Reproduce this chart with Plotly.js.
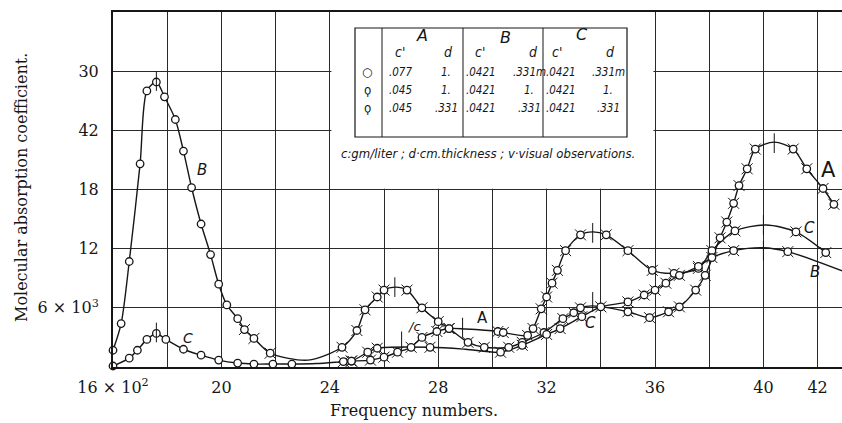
<!DOCTYPE html>
<html><head><meta charset="utf-8">
<script src="https://cdn.plot.ly/plotly-3.0.1.min.js"></script>
<style>html,body{margin:0;padding:0;background:#fff}#chart{width:842px;height:423px}</style>
</head><body><div id="chart"></div>
<script>
// ---- data (x: frequency numbers /100, y: molecular absorption coeff /1000) ----
// Curve 1: big left band (B, plain circles) running on to the right-hand band labelled A
const curve1X = [16.0,16.3,16.6,17.0,17.25,17.6,17.9,18.3,18.6,18.9,19.25,19.6,19.9,20.2,20.6,
  20.85,21.2,21.8,24.45,25.0,25.3,25.75,26.0,26.85,27.4,28.0,28.4,29.1,29.7,30.6,31.1,31.9,32.6,33.0,33.25,
  35.0,35.8,36.5,36.9,37.5,37.85,38.4,38.65,38.9,39.1,39.4,39.7,41.1,41.6,42.2,42.6];
const curve1Y = [1.7,4.4,10.7,20.6,28.0,28.9,27.4,25.1,21.9,18.2,14.5,11.4,8.4,6.3,4.9,
  3.8,2.9,1.4,2.0,3.7,5.8,7.1,7.8,7.8,6.0,4.6,3.9,2.5,2.0,2.0,2.5,3.5,4.9,5.5,6.0,
  5.6,5.0,5.6,6.1,7.8,9.3,13.1,14.7,16.6,18.4,20.1,22.1,22.1,20.1,18.1,16.5];
const curve1Plain = 15;               // first points are plain circles, the rest visual-observation marks
const curve1LineX = [23.2,26.4,33.7,40.4];   // points of the drawn line without a mark
const curve1LineY = [0.7,8.1,6.2,22.8];

// Curve 2: small left band (C, plain circles) running on to the right-hand band labelled C
const curve2X = [16.0,16.6,16.9,17.25,17.6,17.95,18.6,19.25,19.9,20.6,21.2,21.9,22.6,
  24.5,24.8,25.5,26.0,26.5,27.0,27.4,27.95,28.4,30.2,30.4,31.3,31.5,31.8,32.0,32.2,32.4,32.7,33.25,34.2,
  35.0,35.9,36.7,37.6,38.1,38.95,41.2,42.3];
const curve2Y = [0.1,0.9,1.7,2.8,3.4,2.8,1.8,1.2,0.7,0.4,0.3,0.3,0.3,
  0.55,0.6,0.7,1.0,1.5,2.0,3.0,3.6,3.9,3.6,3.5,3.2,3.9,5.9,7.1,8.5,9.8,11.8,13.4,13.4,
  11.8,9.8,9.5,10.0,11.8,13.8,13.7,11.6];
const curve2Plain = 13;
const curve2LineX = [23.5,29.0,33.7,40.1];
const curve2LineY = [0.35,3.85,13.7,14.4];

// Curve 3: low curve running on to the right-hand band labelled B
const curve3X = [24.8,25.4,25.75,27.7,30.3,31.1,32.0,32.5,33.3,34.0,35.0,35.6,36.0,36.4,36.9,37.6,38.1,38.9,40.9,42.95];
const curve3Y = [0.6,1.5,1.9,2.0,1.5,2.2,3.3,3.9,5.1,6.1,6.6,7.3,7.8,8.5,9.3,10.2,11.1,11.8,11.7,9.7];
const curve3Plain = 0;
const curve3LineX = [24.3,29.0,40.0];
const curve3LineY = [0.5,1.8,12.1];

// short vertical marks at band maxima
const peakMarkX = [17.6,17.6,26.4,28.9,26.65,33.7,33.7,40.4,40.0,40.0];
const peakMarkY = [29.0,3.5,8.1,4.0,2.6,13.6,6.6,22.7,14.4,11.8];

// axes
const xTickVals = [16,18,20,22,24,26,28,30,32,34,36,38,40,42];
const xTickText = ['16 × 10<sup>2</sup>','','20','','24','','28','','32','','36','','40','42'];
const yTickVals = [6,12,18,24,30];
const yTickText = ['6 × 10<sup>3</sup>','12','18','42','30'];

// key table
const keyColumns = ['A','B','C'];
const keyCPrimeA = ['.077','.045','.045'];
const keyDA = ['1.','1.','.331'];
const keyCPrimeB = ['.0421','.0421','.0421'];
const keyDB = ['.331m','1.','.331'];
const keyCPrimeC = ['.0421','.0421','.0421'];
const keyDC = ['.331m','1.','.331'];
const keySymbols = ['○','ϙ','ϙ'];
const keyNote = 'c:gm/liter ; d·cm.thickness ; v·visual observations.';

// ---- drawing ----
const INK = '#161616';
function merge(ox, oy, lx, ly){
  const p = ox.map((x,i)=>[x,oy[i]]).concat(lx.map((x,i)=>[x,ly[i]]));
  p.sort((a,b)=>a[0]-b[0]);
  return [p.map(q=>q[0]), p.map(q=>q[1])];
}
const curves = [
  [curve1X,curve1Y,curve1Plain,curve1LineX,curve1LineY],
  [curve2X,curve2Y,curve2Plain,curve2LineX,curve2LineY],
  [curve3X,curve3Y,curve3Plain,curve3LineX,curve3LineY]
];
const traces = [];
curves.forEach(c=>{
  const [lx,ly] = merge(c[0],c[1],c[3],c[4]);
  traces.push({x:lx,y:ly,mode:'lines',type:'scatter',hoverinfo:'skip',
    line:{color:INK,width:1.4,shape:'spline',smoothing:0.8}});
});
curves.forEach(c=>{
  traces.push({x:c[0].slice(c[2]),y:c[1].slice(c[2]),mode:'markers',type:'scatter',cliponaxis:false,hoverinfo:'skip',
    marker:{symbol:'x-thin-open',size:11,color:INK,line:{color:INK,width:1}}});
});
curves.forEach(c=>{
  traces.push({x:c[0],y:c[1],mode:'markers',type:'scatter',cliponaxis:false,hoverinfo:'skip',
    marker:{symbol:'circle',size:7.5,color:'#fff',line:{color:INK,width:1.3}}});
});

// pixel -> paper helpers for the key and labels
const PL=113, PR=842, PT=12, PB=367;
const px = X => (X-PL)/(PR-PL);
const py = Y => (PB-Y)/(PB-PT);

const shapes = [];
shapes.push({type:'rect',layer:'between',xref:'x',yref:'y',x0:24.06,x1:35.94,y0:18.08,y1:36,fillcolor:'#fff',line:{width:0}});
peakMarkX.forEach((x,i)=>{
  shapes.push({type:'line',xref:'x',yref:'y',x0:x,x1:x,y0:peakMarkY[i]-1.0,y1:peakMarkY[i]+1.0,line:{color:INK,width:1}});
});
// key box
shapes.push({type:'rect',xref:'paper',yref:'paper',x0:px(355),x1:px(627),y0:py(137),y1:py(28),line:{color:INK,width:1.2},fillcolor:'rgba(0,0,0,0)'});
[382,463,543].forEach(X=>shapes.push({type:'line',xref:'paper',yref:'paper',x0:px(X),x1:px(X),y0:py(137),y1:py(28),line:{color:INK,width:1}}));

const ann = [];
const hand = {family:'Liberation Sans Narrow, DejaVu Sans Condensed, Liberation Sans',size:12,color:INK};
function t(text,X,Y,font,extra){ ann.push(Object.assign({text:text,xref:'paper',yref:'paper',x:px(X),y:py(Y),showarrow:false,xanchor:'center',yanchor:'middle',font:font},extra||{})); }
// key headers
t('<i>'+keyColumns[0]+'</i>',422,35,{family:'DejaVu Sans',size:16,color:INK});
t('<i>'+keyColumns[1]+'</i>',505,37,{family:'DejaVu Sans',size:16,color:INK});
t('<i>'+keyColumns[2]+'</i>',582,34,{family:'DejaVu Sans',size:16,color:INK});
[[400,448],[480,533],[557,610]].forEach(p=>{ t("<i>c'</i>",p[0],52,{...hand,size:14}); t('<i>d</i>',p[1],52,{...hand,size:14}); });
const rowsY=[72,90,108];
const cols=[[keyCPrimeA,400],[keyDA,446],[keyCPrimeB,481],[keyDB,529],[keyCPrimeC,561],[keyDC,608]];
rowsY.forEach((Y,r)=>{
  t(keySymbols[r],367,Y,{family:'DejaVu Sans',size:12,color:INK});
  cols.forEach(c=>t('<i>'+c[0][r]+'</i>',c[1],Y,{...hand,size:11.5}));
});
t('<i>'+keyNote+'</i>',488,153,{...hand,size:13});
// curve labels
const lab = {family:'DejaVu Sans',size:15,color:INK};
t('<i>B</i>',202,170,lab);
t('<i>C</i>',188,338,{...lab,size:14});
t('<i>/c</i>',414,326,{...lab,size:13});
t('A',482,318,lab);
t('<i>C</i>',590,323,lab);
t('A',828,170,{...lab,size:21});
t('<i>C</i>',809,228,lab);
t('<i>B</i>',815,272,lab);
// axis titles
t('Frequency numbers.',414,410,{family:'DejaVu Serif',size:16,color:INK});
t('Molecular absorption coefficient.',21,188,{family:'DejaVu Serif',size:16,color:INK},{textangle:-90});

const axisFont = {family:'DejaVu Serif',size:16,color:INK};
const layout = {
  width:842,height:423,margin:{l:PL,r:0,t:PT,b:423-PB,pad:0},
  paper_bgcolor:'#fff',plot_bgcolor:'#fff',showlegend:false,
  xaxis:{range:[16,42.9],tickmode:'array',tickvals:xTickVals,ticktext:xTickText,showgrid:true,gridcolor:'#2a2a2a',gridwidth:1,
    zeroline:false,showline:true,linecolor:INK,linewidth:2,mirror:true,ticks:'',ticklabelstandoff:5,tickfont:axisFont,fixedrange:true},
  yaxis:{range:[0,36],tickmode:'array',tickvals:yTickVals,ticktext:yTickText,showgrid:true,gridcolor:'#2a2a2a',gridwidth:1,
    zeroline:false,showline:true,linecolor:INK,linewidth:2,ticks:'',ticklabelstandoff:9,tickfont:axisFont,fixedrange:true},
  shapes:shapes,annotations:ann
};
Plotly.newPlot('chart',traces,layout,{displayModeBar:false,staticPlot:true});
</script></body></html>
